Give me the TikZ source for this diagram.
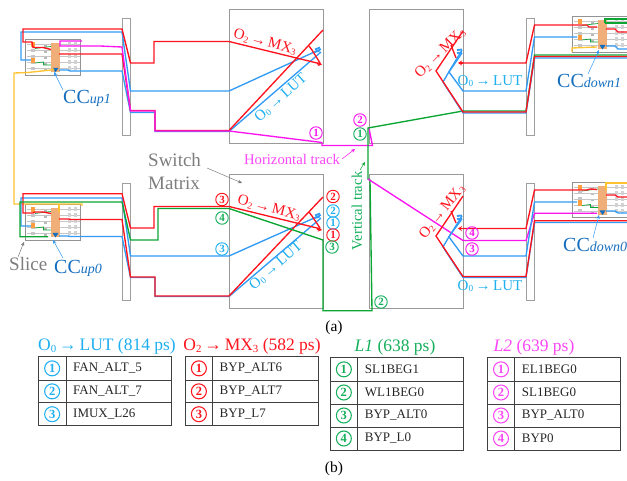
\documentclass[tikz,border=0pt]{standalone}
\usepackage{fontspec}
\setmainfont{Liberation Serif}
\usetikzlibrary{arrows.meta}
\definecolor{wred}{RGB}{255,20,30}
\definecolor{wblue}{RGB}{50,155,245}
\definecolor{wgreen}{RGB}{10,165,50}
\definecolor{wmag}{RGB}{250,20,240}
\definecolor{wyel}{RGB}{255,195,50}
\definecolor{lcyan}{RGB}{30,175,240}
\definecolor{lgreen}{RGB}{20,175,90}
\definecolor{lmag}{RGB}{250,70,245}
\definecolor{lblue}{RGB}{20,110,190}
\definecolor{lgray}{RGB}{125,125,125}
\definecolor{cellorange}{RGB}{240,175,120}
\newcommand{\subn}[1]{\raisebox{-0.12em}{\scalebox{0.62}{#1}}}
\newcommand{\Ozm}{O\subn{0}\,→\,LUT}
\newcommand{\Otm}{O\subn{2}\,→\,MX\subn{3}}
\newcommand{\ccl}[1]{CC{\fontsize{14}{14}\selectfont\itshape #1}}
\newcommand{\slicecell}[2]{%
\begin{scope}[shift={(#1,#2)}]
\draw[draw=gray!85,fill=white,line width=.7pt] (0,0) rectangle (54.5,35.5);
\foreach \yy in {5,11,17,23,29}{
  \draw[gray!45,line width=.5pt] (1,\yy) -- (26,\yy);
  \draw[gray!45,line width=.5pt] (34,\yy) -- (54,\yy);
  \fill[gray!45] (5,\yy-1.5) rectangle (9,\yy+1.5);
  \fill[gray!35] (42,\yy-2) rectangle (45,\yy+2);
  \fill[gray!35] (48,\yy-2) rectangle (51,\yy+2);
  \fill[gray!55] (18,\yy+1) rectangle (21,\yy+2.5);
}
\fill[cellorange] (25.5,3.8) rectangle (34,33);
\fill[orange!75!white] (5,3) rectangle (9.5,8);
\fill[orange!75!white] (5,18.5) rectangle (9.5,24);
\draw[wgreen,line width=.7pt] (9.5,9) -- (17,8) -- (25.5,7);
\draw[wgreen,line width=.7pt] (9.5,23.5) -- (18,22.5) -- (18,25.5) -- (25.5,25.5);
\fill[lblue] (27,28.5) -- (33,28.5) -- (30,33) -- cycle;
\end{scope}}
\newcommand{\trow}[9]{%
\draw[tabline] (#1,#4) rectangle (#3,#5);
\draw[tabline] (#2,#4) -- (#2,#5);
\node[numc=#6,line width=1.05pt,minimum size=15pt,font=\fontsize{12.5}{12.5}\selectfont\bfseries] (#9) at ({(#1+#2)/2},{(#4+#5)/2}) {#7};
\node[anchor=west,inner sep=0pt,font=\fontsize{13}{13}\selectfont,text=black!85] (#9t) at (#2+7,{(#4+#5)/2}) {#8};}
\tikzset{
  wr/.style={wred,line width=1.35pt,line join=miter},
  wb/.style={wblue,line width=1.35pt},
  wg/.style={wgreen,line width=1.35pt},
  wm/.style={wmag,line width=1.35pt},
  wy/.style={wyel,line width=1.35pt},
  barbox/.style={draw=gray!75,fill=white,line width=.8pt},
  smbox/.style={draw=gray!80,line width=.8pt},
  tabline/.style={draw=black!75,line width=.9pt},
  numc/.style={circle,draw=#1,text=#1,inner sep=0pt,minimum size=12.5pt,line width=.95pt,font=\fontsize{11}{11}\selectfont\bfseries},
  ptr/.style={-{Stealth[length=4pt,width=3.5pt]},line width=.5pt},
  wlab/.style={inner sep=0pt,font=\fontsize{15}{15}\selectfont},
  glab/.style={inner sep=0pt,text=lgray,font=\fontsize{19}{21}\selectfont},
  cclab/.style={inner sep=0pt,text=lblue,font=\fontsize{20}{20}\selectfont},
  ttl/.style={inner sep=0pt,font=\fontsize{17.5}{18}\selectfont},
}
\begin{document}
\begin{tikzpicture}[x=1pt,y=-1pt]
\useasboundingbox (0,0) rectangle (627,481);
% switch bars and matrices
\draw[barbox] (122,18) rectangle (130.5,135);
\draw[barbox] (122,183) rectangle (130.5,300);
\draw[barbox] (526,18) rectangle (534.5,135);
\draw[barbox] (526,183) rectangle (534.5,300);
\draw[smbox] (229,9) rectangle (323,143);
\draw[smbox] (229,174) rectangle (323,308);
\draw[smbox] (369.5,9) rectangle (463,143);
\draw[smbox] (369.5,174) rectangle (463,308);
% slices
\slicecell{25.5}{39.5}
\slicecell{25.5}{204.5}
\slicecell{572.5}{16.5}
\slicecell{572.5}{182}
% ===== top-left =====
\draw[wy] (54,69) -- (51,70) -- (28,72.5) -- (14,73) -- (14,204) -- (82,204) -- (82,206);
\draw[wy] (59,204) -- (59,212);
\draw[wb] (31,60) -- (21,60) -- (21,32) -- (122,32) -- (130.5,91) -- (229,91) -- (321,49);
\draw[wb] (59,70) -- (68,70) -- (70,71) -- (122,71) -- (130.5,112.5) -- (155,112.5) -- (155,131.5) -- (229,131.5) -- (321,52);
\draw[wb,line width=1.8pt] (320,47.5) -- (315,49.5) (320,50.5) -- (315,52);
\draw[wr] (51,49.5) -- (43,47.5) -- (33,47.5) -- (32,42) -- (23,42) -- (23,29) -- (122,29) -- (130.5,63) -- (154,63) -- (154,41.5) -- (229,41.5) -- (319,63.5);
\draw[wr] (59,54) -- (122,54) -- (130.5,110.5) -- (155,110.5) -- (155,130.5) -- (229,130.5) -- (323,30);
\draw[wr] (309,46) -- (312,50) -- (320,63);
\draw[wr,line width=1.8pt,-{Stealth[length=4pt,width=5pt]}] (317,63.5) -- (322,64.5);
\draw[wm] (82,41) -- (60,41) -- (60,46) -- (100,46) -- (122,47) -- (130.5,111) -- (155,111) -- (155,131) -- (229,131) -- (322,142.5) -- (322,145.5) -- (372.5,145.5) -- (369,128.5);
% ===== bottom-left =====
\draw[wb] (31,226) -- (21,226) -- (21,198) -- (122,198) -- (130.5,256) -- (229,256) -- (321,215);
\draw[wb] (59,236) -- (68,236) -- (70,236.5) -- (122,236.5) -- (130.5,277.5) -- (155,277.5) -- (155,296.5) -- (229,296.5) -- (321,218);
\draw[wb,line width=1.8pt] (320,213.5) -- (315,215.5) (320,216.5) -- (315,218);
\draw[wr] (51,213.5) -- (43,212) -- (35,212) -- (33,213) -- (23,213) -- (23,193.7) -- (122,193.7) -- (130.5,228) -- (154,228) -- (154,206.5) -- (229,206.5) -- (319,228.5);
\draw[wr] (59,219) -- (69,219) -- (71,219.5) -- (122,219.5) -- (130.5,277) -- (155,277) -- (155,296) -- (229,296) -- (323,197);
\draw[wr] (309,212) -- (312,216) -- (320,228);
\draw[wr,line width=1.8pt,-{Stealth[length=4pt,width=5pt]}] (317,229) -- (322,230);
% ===== green path =====
\draw[wg] (48,236.7) -- (20,236.7) -- (20,202) -- (122,202) -- (130.5,240) -- (158,240) -- (158,208.5) -- (229,208.5) -- (323,240) -- (323,310.7) -- (372,310.7) -- (370,180) -- (368,179) -- (368,128) -- (463,111) -- (526,111) -- (534.5,55) -- (627,55);
% ===== top-right =====
\draw[wb] (627,58) -- (534.5,58) -- (526,113) -- (463,113) -- (443,82) -- (450,70) -- (462,50);
\draw[wb] (577,37) -- (534.5,37) -- (526,91) -- (463,91) -- (449,72) -- (462,53);
\draw[wb,line width=1.8pt] (462,49.5) -- (457,50) (462,52.5) -- (457,53);
\draw[wr] (627,56.5) -- (534.5,56.5) -- (526,112) -- (463,112) -- (436,71) -- (463,31);
\draw[wr] (451,45) -- (456,58);
\draw[wr] (587,25) -- (534.5,25) -- (526,63) -- (463,63);
\draw[wr,line width=1.8pt,-{Stealth[length=4pt,width=5pt]}] (463,63) -- (458,63);
\draw[wr] (587,25) -- (589,27) -- (597,27);
\draw[wr] (606,29) -- (615,29) -- (618,32) -- (627,32);
\draw[wb] (606,46) -- (615,46) -- (618,49) -- (627,49);
\draw[wg] (605,23) -- (605,19) -- (627,19) (605,23) -- (627,23);
\draw[wy] (597,47) -- (572,48) -- (572,52);
% ===== bottom-right =====
\draw[wm] (368,179) -- (463,240.5) -- (526,240.5) -- (534.5,213.3) -- (597,213.3);
\draw[wb] (577,202) -- (534.5,202) -- (526,256) -- (463,256) -- (449,237) -- (462,216);
\draw[wb] (627,222.5) -- (534.5,222.5) -- (526,277.5) -- (463,277.5) -- (443,247) -- (450,235) -- (462,219);
\draw[wb,line width=1.8pt] (462,215.5) -- (457,216) (462,218.5) -- (457,219);
\draw[wr] (627,220.8) -- (534.5,220.8) -- (526,276.5) -- (463,276.5) -- (436,236) -- (463,196);
\draw[wr] (451,211) -- (456,223);
\draw[wr] (587,190) -- (534.5,190) -- (526,228.5) -- (463,228.5);
\draw[wr,line width=1.8pt,-{Stealth[length=4pt,width=5pt]}] (463,228.5) -- (458,228.5);
\draw[wr] (587,190) -- (590,189) -- (597,189.5);
\draw[wr] (606,195) -- (615,195) -- (618,197) -- (627,197);
\draw[wb] (606,211) -- (615,211) -- (618,213) -- (627,213);
\draw[wy] (606,190) -- (606,183) -- (627,183);
% ===== labels =====
\node[wlab,text=wred,rotate=-15] (la) at (265,42) {\Otm};
\node[wlab,text=lcyan,rotate=42] (lb) at (281,98) {\Ozm};
\node[wlab,text=wred,rotate=-15] (lc) at (269,208) {\Otm};
\node[wlab,text=lcyan,rotate=41] (ld) at (276,266) {\Ozm};
\node[wlab,text=wred,rotate=45] (le) at (440,53) {\Otm};
\node[wlab,text=wred,rotate=52] (lf) at (442,212) {\Otm};
\node[wlab,text=lcyan] (lg) at (490,81) {\Ozm};
\node[wlab,text=lcyan] (lh) at (490,286) {\Ozm};
\node[wlab,text=lmag,font=\fontsize{14.7}{15}\selectfont] (hz) at (292,159) {Horizontal track};
\node[wlab,text=lgreen,rotate=90,font=\fontsize{14.7}{15}\selectfont] (vt) at (357,211) {Vertical track};
\node[glab,anchor=west] (sw1) at (148,160) {Switch};
\node[glab,anchor=west] (sw2) at (148,183) {Matrix};
\node[glab,anchor=west] (sl) at (9,264) {Slice};
\node[cclab,anchor=west] (cc1) at (63,98) {\ccl{up1}};
\node[cclab,anchor=west] (cc2) at (54,268) {\ccl{up0}};
\node[cclab,anchor=west] (cc3) at (557,81) {\ccl{down1}};
\node[cclab,anchor=west] (cc4) at (563,245) {\ccl{down0}};
% pointers
\draw[ptr,lgray] (207,168) -- (242,183);
\draw[ptr,lgray] (18,257) -- (24,242);
\draw[ptr,wblue] (63,90) -- (54,72);
\draw[ptr,wblue] (63,258) -- (53,240);
\draw[ptr,wblue] (588,74) -- (599,50);
\draw[ptr,wblue] (593,238) -- (599,215);
\draw[ptr,wmag] (342,159) -- (355,149);
\draw[ptr,wgreen] (360,170) -- (365,162);
% circled numbers
\node[numc=wmag,fill=white] (p1) at (316,133) {1};
\node[numc=wmag] (p2) at (360,120) {2};
\node[numc=lgreen] (g1) at (360,134) {1};
\node[numc=wred] (r3) at (222,199.5) {3};
\node[numc=lgreen] (g4) at (222,218) {4};
\node[numc=lcyan] (c3) at (222,249) {3};
\node[numc=wred] (r2) at (333,196.5) {2};
\node[numc=lcyan] (c2) at (333,211) {2};
\node[numc=lcyan] (c1) at (333,223) {1};
\node[numc=wred] (r1) at (333,235) {1};
\node[numc=lgreen] (g3) at (332,247) {3};
\node[numc=lgreen] (g2) at (381,302) {2};
\node[numc=wmag] (p4) at (472,233) {4};
\node[numc=wmag] (p3) at (472,249) {3};
% captions
\node[inner sep=0pt,font=\fontsize{15.5}{16}\selectfont] (capa) at (334,328) {(a)};
\node[inner sep=0pt,font=\fontsize{15.5}{16}\selectfont] (capb) at (334,469) {(b)};
% tables
\node[ttl,text=lcyan] (t1) at (107,346) {\Ozm{} (814 ps)};
\node[ttl,text=wred] (t2) at (252,346) {\Otm{} (582 ps)};
\node[ttl,text=lgreen] (t3) at (395,347) {\textit{L1} (638 ps)};
\node[ttl,text=lmag] (t4) at (534,347) {\textit{L2} (639 ps)};
\trow{38.3}{66}{171.7}{356.7}{380}{lcyan}{1}{FAN\_ALT\_5}{ta}
\trow{38.3}{66}{171.7}{380}{402.7}{lcyan}{2}{FAN\_ALT\_7}{tb}
\trow{38.3}{66}{171.7}{402.7}{425.7}{lcyan}{3}{IMUX\_L26}{tc}
\trow{185.3}{212.5}{318.5}{356.7}{380}{wred}{1}{BYP\_ALT6}{td}
\trow{185.3}{212.5}{318.5}{380}{402.7}{wred}{2}{BYP\_ALT7}{te}
\trow{185.3}{212.5}{318.5}{402.7}{425.7}{wred}{3}{BYP\_L7}{tf}
\trow{330}{357.7}{463.3}{357.7}{381}{lgreen}{1}{SL1BEG1}{tg}
\trow{330}{357.7}{463.3}{381}{404}{lgreen}{2}{WL1BEG0}{th}
\trow{330}{357.7}{463.3}{404}{427}{lgreen}{3}{BYP\_ALT0}{ti}
\trow{330}{357.7}{463.3}{427}{450}{lgreen}{4}{BYP\_L0}{tj}
\trow{487.3}{514.7}{620}{357.7}{381}{lmag}{1}{EL1BEG0}{tk}
\trow{487.3}{514.7}{620}{381}{404}{lmag}{2}{SL1BEG0}{tl}
\trow{487.3}{514.7}{620}{404}{427}{lmag}{3}{BYP\_ALT0}{tm}
\trow{487.3}{514.7}{620}{427}{450}{lmag}{4}{BYP0}{tn}
\end{tikzpicture}
\end{document}
